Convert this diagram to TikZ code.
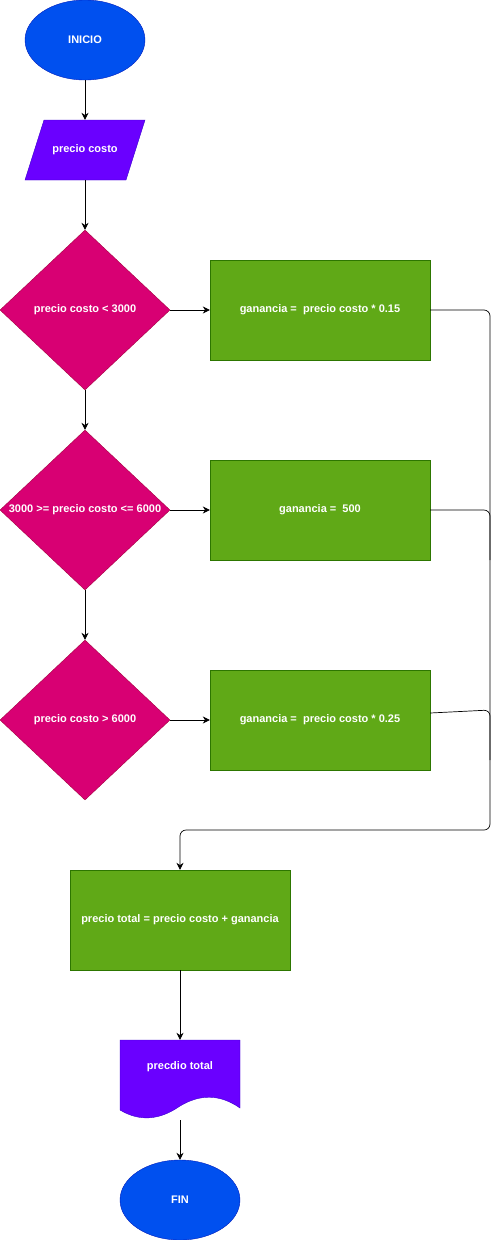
\documentclass[tikz,border=0pt]{standalone}
\usepackage{fontspec}
\setmainfont{Liberation Sans}
\usetikzlibrary{shapes.geometric,arrows.meta}
\definecolor{ellfill}{HTML}{0050EF}
\definecolor{elldraw}{HTML}{001DBC}
\definecolor{iofill}{HTML}{6A00FF}
\definecolor{iodraw}{HTML}{3700CC}
\definecolor{decfill}{HTML}{D80073}
\definecolor{decdraw}{HTML}{A50040}
\definecolor{procfill}{HTML}{60A917}
\definecolor{procdraw}{HTML}{2D7600}
\tikzset{
  lbl/.style={text=white,font=\fontsize{11}{13}\selectfont\bfseries,inner sep=0pt},
  term/.style={ellipse,fill=ellfill,draw=elldraw,minimum width=120pt,minimum height=80pt,inner sep=0pt},
  iobox/.style={rectangle,minimum width=120pt,minimum height=60pt,inner sep=0pt},
  iofig/.style={fill=iofill,draw=iodraw},
  decbox/.style={diamond,fill=decfill,draw=decdraw,minimum width=170pt,minimum height=160pt,inner sep=0pt},
  procbox/.style={rectangle,fill=procfill,draw=procdraw,minimum width=220pt,minimum height=100pt,inner sep=0pt},
  arr/.style={-{Stealth[length=7pt,width=7pt]},line width=0.7pt},
  conn/.style={line width=0.7pt,rounded corners=6pt}
}
\begin{document}
\begin{tikzpicture}[x=1pt,y=-1pt]
\useasboundingbox (0,0) rectangle (499,1240);
\node[term] (ini) at (85,40) {};
\node[lbl] at (ini) {INICIO};
\path[iofig] (44,120) -- (145,120) -- (126,180) -- (25,180) -- cycle;
\node[iobox] (pc) at (85,150) {};
\node[lbl] at (pc) {precio costo};
\node[decbox] (d1) at (85,310) {};
\node[lbl] at (d1) {precio costo < 3000};
\node[decbox] (d2) at (85,510) {};
\node[lbl] at (d2) {3000 >= precio costo <= 6000};
\node[decbox] (d3) at (85,720) {};
\node[lbl] at (d3) {precio costo > 6000};
\node[procbox] (b1) at (320,310) {};
\node[lbl] at (b1) {ganancia =\ \ precio costo * 0.15};
\node[procbox] (b2) at (320,510) {};
\node[lbl] at (b2) {ganancia =\ \ 500};
\node[procbox] (b3) at (320,720) {};
\node[lbl] at (b3) {ganancia =\ \ precio costo * 0.25};
\node[procbox] (b4) at (180,920) {};
\node[lbl] at (b4) {precio total = precio costo + ganancia};
% document shape
\path[iofig] (120,1040) -- (240,1040) -- (240,1108)
  .. controls (220,1094) and (200,1094) .. (180,1106)
  .. controls (160,1120) and (140,1122) .. (120,1110) -- cycle;
\node[inner sep=0pt,minimum width=120pt,minimum height=80pt] (doc) at (180,1080) {};
\node[lbl] at (180,1067) {precdio total};
\coordinate (docb) at (180,1120);
\node[term] (fin) at (180,1200) {};
\node[lbl] at (fin) {FIN};
\coordinate (j1) at (490,310);
\coordinate (j2) at (490,510);
\coordinate (j3) at (490,710);
\coordinate (jb) at (490,830);
\coordinate (jl) at (180,830);
% arrows
\draw[arr] (ini.south) -- (pc.north);
\draw[arr] (pc.south) -- (d1.north);
\draw[arr] (d1.south) -- (d2.north);
\draw[arr] (d2.south) -- (d3.north);
\draw[arr] (d1.east) -- (b1.west);
\draw[arr] (d2.east) -- (b2.west);
\draw[arr] (d3.east) -- (b3.west);
\draw[conn,arr] (b1.east) -- (j1) -- (jb) -- (jl) -- (b4.north);
\draw[conn] (b2.east) -- (j2) -- (490,560);
\draw[conn] ([yshift=7pt]b3.east) -- (j3) -- (490,760);
\draw[arr] (b4.south) -- (doc.north);
\draw[arr] (docb) -- (fin.north);
\end{tikzpicture}
\end{document}
